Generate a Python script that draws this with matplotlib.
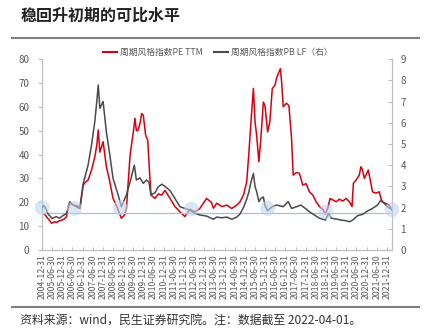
import matplotlib

matplotlib.use("Agg")
import matplotlib.pyplot as plt
from matplotlib.lines import Line2D

plt.rcParams["font.family"] = ["Noto Sans CJK SC", "DejaVu Sans"]

# dates as decimal years
pe_dates = [2005.01, 2005.14, 2005.31, 2005.47, 2005.60, 2005.72, 2005.85, 2005.96,
            2006.10, 2006.21, 2006.30, 2006.37, 2006.50, 2006.62, 2006.75, 2006.87,
            2007.03, 2007.15, 2007.27, 2007.44, 2007.60, 2007.70, 2007.77, 2007.85,
            2008.01, 2008.17, 2008.34, 2008.50, 2008.62, 2008.75, 2008.91, 2009.05,
            2009.16, 2009.34, 2009.50, 2009.58, 2009.65, 2009.72, 2009.83, 2009.91,
            2009.99, 2010.11, 2010.21, 2010.27, 2010.37, 2010.57, 2010.73, 2010.90,
            2011.06, 2011.31, 2011.55, 2011.80, 2012.04, 2012.29, 2012.53, 2012.78,
            2013.11, 2013.35, 2013.45, 2013.61, 2013.86, 2014.11, 2014.35, 2014.60,
            2014.76, 2014.93, 2015.09, 2015.20, 2015.30, 2015.42, 2015.50, 2015.58,
            2015.69, 2015.79, 2015.91, 2015.99, 2016.12, 2016.23, 2016.35, 2016.48,
            2016.56, 2016.75, 2016.81, 2016.89, 2017.05, 2017.17, 2017.30, 2017.38,
            2017.55, 2017.69, 2017.76, 2017.85, 2018.02, 2018.18, 2018.35, 2018.51,
            2018.68, 2018.84, 2018.97, 2019.08, 2019.20, 2019.33, 2019.50, 2019.66,
            2019.82, 2019.99, 2020.15, 2020.28, 2020.35, 2020.48, 2020.64, 2020.72,
            2020.80, 2020.89, 2020.97, 2021.08, 2021.18, 2021.29, 2021.46, 2021.62,
            2021.76, 2021.92, 2022.11, 2022.25]
pe_values = [15.4, 14.8, 13.0, 11.2, 11.8, 11.6, 12.2, 12.5,
             13.0, 14.0, 18.5, 20.2, 19.0, 18.5, 17.8, 17.4,
             27.2, 28.5, 29.3, 33.5, 39.0, 44.0, 50.3, 41.0,
             45.4, 35.0, 28.6, 21.6, 19.5, 16.8, 13.3, 14.5,
             17.4, 39.8, 49.5, 55.2, 50.0, 50.0, 53.0, 57.2,
             56.5, 48.0, 46.0, 37.0, 23.0, 21.6, 23.5, 23.0,
             25.0, 21.6, 18.2, 16.0, 14.0, 17.0, 16.0, 17.4,
             21.6, 20.0, 17.5, 19.6, 18.2, 18.8, 17.4, 18.8,
             20.2, 23.0, 28.6, 41.0, 53.7, 67.7, 53.7, 48.0,
             37.0, 47.0, 62.0, 60.5, 49.5, 53.7, 67.7, 69.0,
             72.0, 76.0, 70.5, 60.0, 61.5, 60.5, 46.8, 31.4,
             32.5, 32.1, 30.0, 27.2, 27.8, 24.4, 23.0, 20.2,
             18.2, 17.0, 15.0, 17.4, 21.6, 21.0, 20.2, 21.3,
             20.5, 21.6, 20.2, 18.2, 28.0, 29.3, 31.4, 34.9,
             33.5, 30.0, 31.4, 33.5, 29.3, 24.4, 23.8, 24.4,
             20.2, 19.6, 18.8, 16.8]

pb_dates = [2005.01, 2005.05, 2005.14, 2005.31, 2005.50, 2005.70, 2005.85, 2006.00,
            2006.21, 2006.37, 2006.62, 2006.87, 2007.03, 2007.27, 2007.44, 2007.60,
            2007.70, 2007.77, 2007.85, 2008.01, 2008.17, 2008.34, 2008.50, 2008.75,
            2008.91, 2009.16, 2009.34, 2009.55, 2009.65, 2009.83, 2009.99, 2010.15,
            2010.27, 2010.37, 2010.57, 2010.73, 2010.90, 2011.06, 2011.31, 2011.55,
            2011.80, 2012.04, 2012.29, 2012.53, 2012.78, 2013.11, 2013.45, 2013.61,
            2013.86, 2014.11, 2014.35, 2014.60, 2014.76, 2014.93, 2015.09, 2015.20,
            2015.30, 2015.42, 2015.50, 2015.58, 2015.69, 2015.79, 2015.91, 2015.99,
            2016.12, 2016.23, 2016.35, 2016.56, 2016.89, 2017.05, 2017.14, 2017.30,
            2017.55, 2017.76, 2017.85, 2018.02, 2018.18, 2018.35, 2018.51, 2018.68,
            2018.97, 2019.13, 2019.25, 2019.50, 2019.74, 2019.99, 2020.15, 2020.31,
            2020.56, 2020.80, 2021.05, 2021.29, 2021.54, 2021.71, 2021.87, 2022.03,
            2022.25]
pb_values = [1.96, 2.10, 2.04, 1.68, 1.49, 1.57, 1.50, 1.60,
             1.73, 2.20, 2.10, 2.04, 3.14, 4.00, 4.95, 6.05,
             7.00, 7.78, 6.68, 7.00, 5.58, 4.48, 3.38, 2.60,
             2.04, 2.60, 3.20, 4.00, 3.30, 3.40, 3.14, 3.30,
             3.20, 2.60, 2.70, 2.98, 3.10, 3.00, 2.80, 2.43,
             2.04, 1.96, 1.88, 1.73, 1.65, 1.60, 1.45, 1.55,
             1.52, 1.55, 1.45, 1.55, 1.70, 2.00, 2.40, 2.75,
             3.20, 3.61, 3.00, 2.75, 2.28, 2.43, 2.50, 2.10,
             1.85, 1.95, 2.04, 2.12, 2.04, 2.20, 2.28, 1.96,
             2.04, 2.12, 2.05, 1.93, 1.80, 1.70, 1.60, 1.50,
             1.41, 1.73, 1.50, 1.46, 1.41, 1.38, 1.33, 1.41,
             1.62, 1.68, 1.84, 1.96, 2.12, 2.36, 2.20, 2.04,
             1.90]

mark_dates = [2005.0, 2006.6, 2008.85, 2012.37, 2016.12, 2019.0, 2022.25]
mark_pb = [2.0, 1.96, 2.0, 1.93, 1.96, 1.8, 1.9]
ref_pb = 1.75

tick_labels = [f"{y}-{md}" for y in range(2004, 2022) for md in ("06-30", "12-31")][1:]
tick_pos = [int(s[:4]) + (181 / 365 if s.endswith("06-30") else 364 / 365) for s in tick_labels]

RED = "#d7000f"
GRAY = "#4a4a4a"
TXT = "#595959"
SPINE = "#bfbfbf"

fig = plt.figure(figsize=(4.31, 3.32), dpi=100)
ax = fig.add_axes([0.0974, 0.247, 0.812, 0.575])
ax2 = ax.twinx()

ax.plot(pe_dates, pe_values, color=RED, linewidth=1.1, zorder=3)
ax2.plot(pb_dates, pb_values, color=GRAY, linewidth=1.1, zorder=3)
ax2.axhline(ref_pb, color="#9dc3e6", linewidth=0.9, zorder=1)
ax2.scatter(mark_dates, mark_pb, s=115, color="#bdd7ee", alpha=0.6,
            edgecolors="none", zorder=4, clip_on=False)

ax.set_xlim(2004.997, 2022.25)
ax.set_ylim(0, 80)
ax2.set_ylim(0, 9)
ax.set_yticks(range(0, 81, 10))
ax2.set_yticks(range(0, 10))
ax.set_xticks(tick_pos)
ax.set_xticklabels(tick_labels, rotation=90, fontsize=6.3, color=TXT)

for a in (ax, ax2):
    a.spines["top"].set_visible(False)
    for side in ("left", "right", "bottom"):
        a.spines[side].set_color(SPINE)
        a.spines[side].set_linewidth(0.8)
ax.tick_params(axis="y", direction="out", length=3, color=SPINE, labelsize=7,
               labelcolor=TXT, pad=6)
ax2.tick_params(axis="y", direction="in", length=3, color=SPINE, labelsize=7,
                labelcolor=TXT, pad=6)
ax.tick_params(axis="x", direction="in", length=2.5, color=SPINE, pad=3)

handles = [Line2D([], [], color=RED, linewidth=1.5),
           Line2D([], [], color=GRAY, linewidth=1.5)]
fig.legend(handles, ["周期风格指数PE TTM", "周期风格指数PB LF（右）"],
           loc="center", bbox_to_anchor=(0.505, 0.843), ncol=2, frameon=False,
           fontsize=6.3, labelcolor=TXT, handlelength=1.6, handletextpad=0.3,
           columnspacing=1.3)

fig.text(0.047, 0.952, "稳回升初期的可比水平", fontsize=11.5, fontweight="bold",
         color="#222222", va="center", ha="left")
fig.add_artist(Line2D([0.028, 0.972], [0.886, 0.886], color="#7f7f7f", linewidth=1.5))
fig.add_artist(Line2D([0.028, 0.972], [0.075, 0.075], color="#7f7f7f", linewidth=1.5))
fig.text(0.047, 0.036, "资料来源：wind，民生证券研究院。注：数据截至 2022-04-01。",
         fontsize=8.6, color="#333333", va="center", ha="left")

fig.savefig("out.png", dpi=100)
